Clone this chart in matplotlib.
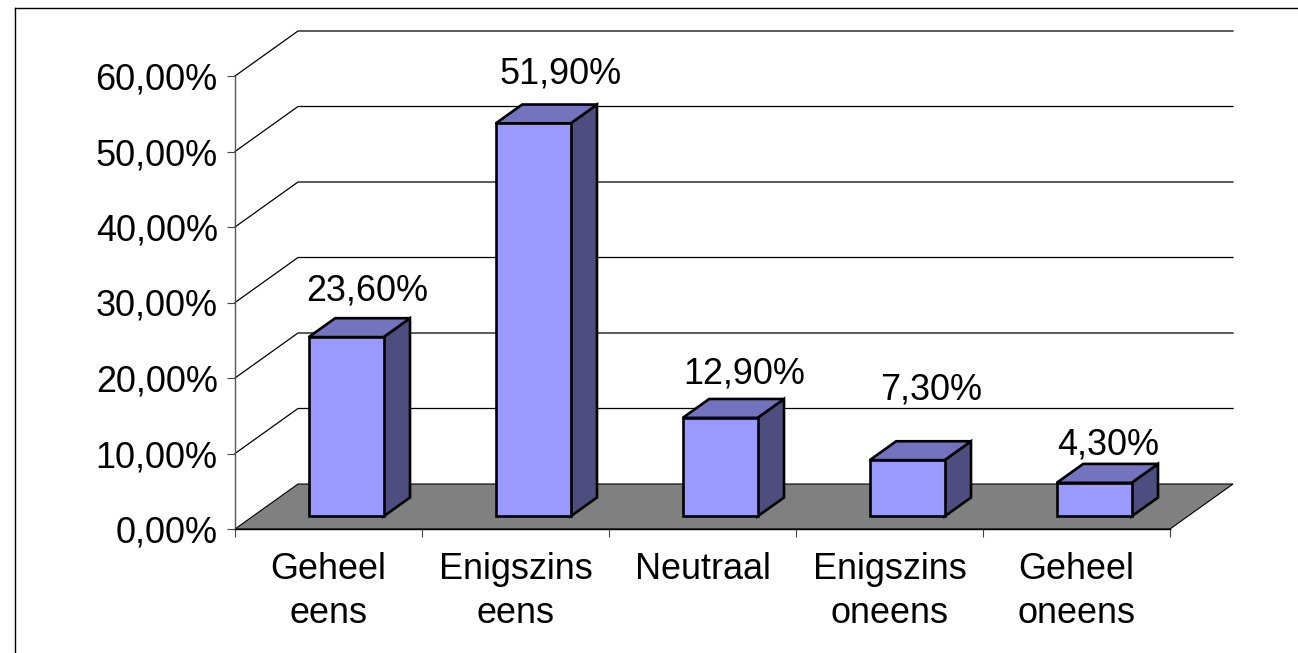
import matplotlib
matplotlib.use("Agg")
import matplotlib.pyplot as plt
from matplotlib.patches import Polygon

W, H = 1298, 653

categories = ["Geheel\neens", "Enigszins\neens", "Neutraal", "Enigszins\noneens", "Geheel\noneens"]
values = [23.6, 51.9, 12.9, 7.3, 4.3]
labels = ["23,60%", "51,90%", "12,90%", "7,30%", "4,30%"]
yticks = [0, 10, 20, 30, 40, 50, 60]
yticklabels = ["0,00%", "10,00%", "20,00%", "30,00%", "40,00%", "50,00%", "60,00%"]
# hand placed label centres in the original, offset from bar top back edge (pixels)
label_dx = [-5, 2, -2, -2, -12]
label_dy = [28, 31, 25, 52, 19]

plt.rcParams["font.family"] = ["Liberation Sans", "DejaVu Sans"]

FRONT = "#9999ff"
TOP = "#7373bf"
SIDE = "#4d4d80"
FLOOR = "#808080"
FS = 25.9

fig = plt.figure(figsize=(W / 100, H / 100), dpi=100)

# plot area in pixels
left, right, top, bottom = 235, 1170, 76, 529
ax = fig.add_axes([left / W, 1 - bottom / H, (right - left) / W, (bottom - top) / H])
ax.set_xlim(0, 5)
ax.set_ylim(0, 60)

# depth of the 3d box in data units
DX = 63 / 187
DY = 45 / 7.55


def box(x0, x1, d0, d1, h):
    # front, side and top of one bar
    ax.add_patch(Polygon([(x0 + d0 * DX, d0 * DY), (x1 + d0 * DX, d0 * DY),
                          (x1 + d0 * DX, h + d0 * DY), (x0 + d0 * DX, h + d0 * DY)],
                         fc=FRONT, ec="black", lw=1.9, zorder=4, clip_on=False, joinstyle="miter"))
    ax.add_patch(Polygon([(x1 + d0 * DX, d0 * DY), (x1 + d1 * DX, d1 * DY),
                          (x1 + d1 * DX, h + d1 * DY), (x1 + d0 * DX, h + d0 * DY)],
                         fc=SIDE, ec="black", lw=1.9, zorder=3, clip_on=False, joinstyle="miter"))
    ax.add_patch(Polygon([(x0 + d0 * DX, h + d0 * DY), (x1 + d0 * DX, h + d0 * DY),
                          (x1 + d1 * DX, h + d1 * DY), (x0 + d1 * DX, h + d1 * DY)],
                         fc=TOP, ec="black", lw=1.9, zorder=3, clip_on=False, joinstyle="miter"))


# walls: gridlines run up the side wall then along the back
for t in yticks[1:]:
    ax.plot([0, DX, 5 + DX], [t, t + DY, t + DY], color="black", lw=0.9, zorder=1, clip_on=False)

# floor
ax.add_patch(Polygon([(0, 0), (5, 0), (5 + DX, DY), (DX, DY)], fc=FLOOR, ec="black", lw=0.8,
                     zorder=2, clip_on=False))

for i, v in enumerate(values):
    box(i + 0.3, i + 0.7, 0.28, 0.70, v + 0.15)
    tx = i + 0.5
    ax.annotate(labels[i], xy=(tx + 0.69 * DX, v + 0.15 + 0.69 * DY),
                xytext=(label_dx[i], label_dy[i]), textcoords="offset pixels",
                ha="center", va="center", fontsize=FS, color="black",
                annotation_clip=False, zorder=5)

for s in ["top", "right"]:
    ax.spines[s].set_visible(False)
ax.patch.set_visible(False)
ax.spines["left"].set_color("#555555")
ax.spines["left"].set_linewidth(1.0)
ax.spines["bottom"].set_color("black")
ax.spines["bottom"].set_linewidth(1.0)
ax.spines["bottom"].set_zorder(6)

ax.set_yticks(yticks)
ax.set_yticklabels(yticklabels, fontsize=FS)
ax.set_xticks(range(6))
ax.set_xticklabels([])
ax.tick_params(axis="both", length=5.5, width=0.8, color="#444444", direction="out")
ax.tick_params(axis="y", pad=7)

for i, c in enumerate(categories):
    ax.annotate(c, xy=(i + 0.5, 0), xytext=(0, -23), textcoords="offset pixels", ha="center",
                va="top", fontsize=FS, linespacing=1.34, annotation_clip=False)

# outer chart frame, only its top and left edges fall inside the image
fig.add_artist(plt.Line2D([15 / W, 15 / W], [0, 1 - 7.5 / H], color="black", lw=1.0))
fig.add_artist(plt.Line2D([15 / W, 1], [1 - 7.5 / H, 1 - 7.5 / H], color="black", lw=1.0))

fig.savefig("out.png", dpi=100)
